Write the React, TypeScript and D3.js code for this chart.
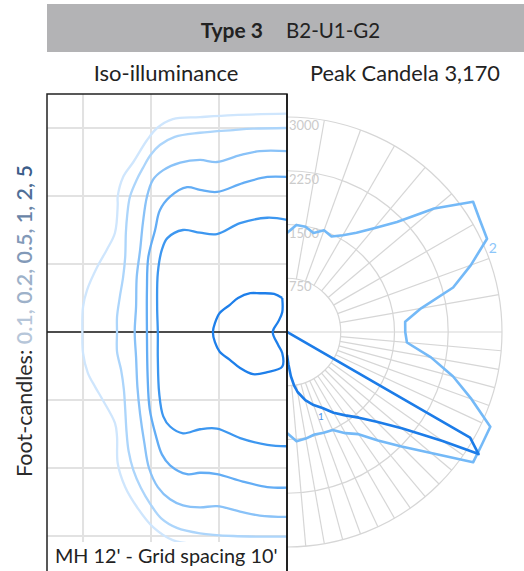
import React from 'react';
import * as d3 from 'd3';

// Iso-illuminance contours, feet relative to the luminaire (x left negative, y up positive)
const ISO_LEVELS = ['0.1', '0.2', '0.5', '1', '2', '5'];
const ISO_COLORS = ['#cfe6fd', '#acd5fb', '#89c2f8', '#63adf5', '#3d97f0', '#1e7fea'];
const LEGEND_COLORS = ['#b6c6d9', '#9db1c9', '#8299b8', '#6884a7', '#506f97', '#3b5d89'];

const iso01: [number, number][] = [
  [0, 32.1], [-7.9, 31.9], [-12.8, 31.6], [-16.8, 31.3], [-19.1, 30.0], [-20.6, 28.2],
  [-22.6, 25.0], [-24.1, 22.8], [-24.9, 19.9], [-24.9, 18.7], [-25.3, 14.6], [-26.5, 12.1],
  [-27.9, 9.6], [-29.4, 6.2], [-30.0, 3.7], [-30.1, 0], [-30.0, -3.1], [-29.3, -6.0],
  [-28.2, -8.1], [-27.1, -10.0], [-25.3, -13.4], [-25.0, -15.4], [-24.9, -19.3], [-23.8, -22.8],
  [-22.1, -25.7], [-19.7, -28.7], [-16.8, -30.6], [-12.8, -31.3], [-6.9, -31.8], [0, -32.1],
];
const iso02: [number, number][] = [
  [0, 30.0], [-5.0, 29.9], [-7.9, 29.7], [-12.8, 29.3], [-16.5, 28.7], [-18.7, 27.5],
  [-20.1, 26.0], [-21.2, 24.1], [-22.1, 22.4], [-23.1, 19.9], [-23.5, 17.2], [-23.7, 14.6],
  [-23.8, 11.0], [-24.1, 8.1], [-24.6, 5.1], [-25.0, 2.2], [-25.0, 0], [-25.0, -2.9],
  [-24.4, -5.6], [-24.0, -8.4], [-23.8, -11.3], [-23.6, -14.7], [-23.3, -17.5], [-22.6, -20.3],
  [-21.5, -22.9], [-20.1, -25.3], [-18.5, -27.4], [-16.2, -28.8], [-12.8, -29.6], [-7.9, -30.0],
  [0, -30.1],
];
const iso05: [number, number][] = [
  [0, 26.6], [-4.0, 26.6], [-6.9, 26.0], [-10.3, 25.0], [-12.8, 25.3], [-15.7, 24.9],
  [-18.2, 23.8], [-19.7, 22.4], [-20.6, 19.9], [-21.2, 16.0], [-21.6, 12.1], [-22.1, 8.1],
  [-22.2, 3.7], [-22.4, 0], [-22.2, -3.7], [-22.0, -8.1], [-21.6, -12.1], [-21.0, -16.2],
  [-20.3, -20.0], [-19.0, -22.8], [-17.2, -24.6], [-15.3, -25.5], [-12.8, -25.8], [-10.3, -25.6],
  [-6.9, -26.4], [-4.0, -27.0], [0, -27.2],
];
const iso1: [number, number][] = [
  [0, 22.8], [-2.9, 22.8], [-6.5, 21.9], [-10.3, 20.6], [-12.8, 20.9], [-14.7, 21.3],
  [-17.2, 19.9], [-18.7, 17.9], [-19.4, 15.0], [-20.4, 11.0], [-20.6, 6.2], [-20.6, 0],
  [-20.5, -6.5], [-20.2, -11.3], [-19.3, -15.2], [-18.4, -18.0], [-17.2, -19.6], [-14.7, -20.9],
  [-12.8, -20.7], [-10.3, -20.9], [-6.5, -22.0], [-2.9, -22.8], [0, -22.9],
];
const iso2: [number, number][] = [
  [0, 16.5], [-2.9, 16.8], [-6.9, 16.0], [-10.3, 14.4], [-12.8, 14.6], [-15.3, 15.0],
  [-17.6, 13.8], [-18.4, 12.1], [-19.0, 8.7], [-19.1, 3.7], [-19.0, 0], [-19.0, -3.8],
  [-18.8, -9.0], [-18.2, -12.4], [-17.2, -13.9], [-15.3, -14.9], [-12.8, -14.3], [-10.3, -14.2],
  [-6.9, -15.6], [-2.9, -16.6], [0, -16.8],
];
const iso5: [number, number][] = [
  [-0.7, 5.0], [-1.9, 5.6], [-4.0, 5.7], [-5.4, 5.7], [-7.2, 5.0], [-8.4, 4.0], [-9.9, 2.8],
  [-10.6, 1.3], [-10.9, 0], [-10.6, -1.5], [-9.9, -2.9], [-8.4, -4.1], [-6.9, -5.3],
  [-5.0, -6.2], [-2.9, -5.9], [-0.7, -5.1], [-0.7, -3.1], [-1.3, -1.9], [-2.1, 0],
  [-1.3, 1.5], [-0.7, 2.9], [-0.7, 5.0],
];
const ISO_DATA = [iso01, iso02, iso05, iso1, iso2, iso5];

// Candela distribution: [angle from nadir (deg), candela]
const plane1: [number, number][] = [
  [0, 320], [2.5, 450], [5, 620], [7.5, 750], [10, 850], [15, 985], [20, 1085], [25, 1170],
  [30, 1300], [35, 1420], [40, 1560], [45, 1770], [50, 2090], [52.5, 2330], [55, 2650],
  [57.5, 3170], [60, 2950], [62.5, 40], [65, 15], [70, 10], [80, 5], [90, 0],
];
const plane2: [number, number][] = [
  [0, 1410], [5, 1530], [10, 1510], [15, 1480], [20, 1495], [25, 1510], [30, 1630],
  [35, 1740], [40, 1975], [45, 2260], [50, 2625], [55, 3170], [60, 3140], [65, 3130],
  [70, 2740], [75, 2400], [80, 2040], [85, 1680], [90, 1650], [95, 1655], [100, 1900],
  [105, 2400], [110, 2730], [115, 3080], [120, 3110], [125, 3170], [130, 2680], [135, 2170],
  [140, 1890], [145, 1690], [150, 1560], [155, 1470], [160, 1510], [165, 1430], [170, 1490],
  [175, 1500], [180, 1380],
];
const RINGS = [750, 1500, 2250, 3000];
const UPPER_SPOKES = [100, 110, 120, 130, 140, 150, 160, 170];
const LOWER_SPOKES = [5, 10, 15, 20, 25, 30, 35, 40, 45, 50, 55, 60, 65, 70, 75, 80, 85];

const FONT = 'Lato, "Open Sans", sans-serif';

export default function App() {
  const x = d3.scaleLinear().domain([-35.3, 0]).range([47, 287]);
  const y = d3.scaleLinear().domain([35, -35]).range([94, 570]);
  const r = d3.scaleLinear().domain([0, 3000]).range([0, 215]);
  const cx = x(0);
  const cy = y(0);

  const isoLine = d3
    .line<[number, number]>()
    .x((d) => x(d[0]))
    .y((d) => y(d[1]))
    .curve(d3.curveCatmullRom);

  const polarPt = (deg: number, cd: number): [number, number] => {
    const a = (deg * Math.PI) / 180;
    return [cx + r(cd) * Math.sin(a), cy + r(cd) * Math.cos(a)];
  };
  const polarLine = d3
    .line<[number, number]>()
    .x((d) => polarPt(d[0], d[1])[0])
    .y((d) => polarPt(d[0], d[1])[1]);

  const spoke = (deg: number) => {
    const [x1, y1] = polarPt(deg, 750);
    const [x2, y2] = polarPt(deg, 3000);
    return <line key={deg} x1={x1} y1={y1} x2={x2} y2={y2} stroke="#d6d6d6" strokeWidth={1.2} />;
  };

  const gridX = [-30, -20, -10];
  const gridY = [-30, -20, -10, 10, 20, 30];
  const lbl2 = polarPt(115, 3000);

  return (
    <svg
      width={524}
      height={571}
      style={{ position: 'absolute', left: 0, top: 0, fontFamily: FONT }}
    >
      <rect width={524} height={571} fill="#fff" />
      {/* header */}
      <rect x={47} y={4} width={477} height={48} fill="#b3b3b5" />
      <text x={263} y={38} textAnchor="end" fontSize={21} fontWeight={700} fill="#222">
        Type 3
      </text>
      <text x={286} y={38} fontSize={20.5} fill="#222">
        B2-U1-G2
      </text>
      <text x={166} y={81} textAnchor="middle" fontSize={22} fill="#222">
        Iso-illuminance
      </text>
      <text x={405} y={81} textAnchor="middle" fontSize={21.8} fill="#222">
        Peak Candela 3,170
      </text>

      {/* polar candela plot */}
      <g>
        {RINGS.map((v) => (
          <path
            key={v}
            d={`M${cx},${cy - r(v)}A${r(v)},${r(v)} 0 0 1 ${cx},${cy + r(v)}`}
            fill="none"
            stroke="#d6d6d6"
            strokeWidth={1.2}
          />
        ))}
        {UPPER_SPOKES.map(spoke)}
        {LOWER_SPOKES.map(spoke)}
        <line x1={cx} y1={cy} x2={cx + r(3000)} y2={cy} stroke="#d6d6d6" strokeWidth={1.2} />
        {RINGS.map((v) => (
          <text key={v} x={cx + 2} y={cy - r(v) + 13} fontSize={13} fill="#cbcbcb">
            {v}
          </text>
        ))}
        <path d={polarLine(plane2) ?? ''} fill="none" stroke="#74b9f7" strokeWidth={2.6} strokeLinejoin="round" />
        <path d={polarLine(plane1) ?? ''} fill="none" stroke="#1c7ce8" strokeWidth={2.6} strokeLinejoin="round" />
        <text x={lbl2[0] + 7} y={lbl2[1] + 12} fontSize={14} fill="#8cc6fa">
          2
        </text>
        <text x={318} y={420} fontSize={10} fill="#4a95ec">
          1
        </text>
      </g>

      {/* iso-illuminance panel */}
      <defs>
        <clipPath id="isoClip">
          <rect x={47} y={94} width={240} height={477} />
        </clipPath>
      </defs>
      <rect x={47} y={94} width={240} height={477} fill="#fff" />
      <g clipPath="url(#isoClip)">
        {gridX.map((g) => (
          <line key={g} x1={x(g)} x2={x(g)} y1={94} y2={571} stroke="#e2e2e2" strokeWidth={2} />
        ))}
        {gridY.map((g) => (
          <line key={g} x1={47} x2={287} y1={y(g)} y2={y(g)} stroke="#e2e2e2" strokeWidth={2} />
        ))}
        <line x1={47} x2={287} y1={cy} y2={cy} stroke="#111" strokeWidth={1.5} />
        {ISO_DATA.map((d, i) => (
          <path
            key={ISO_LEVELS[i]}
            d={isoLine(d) ?? ''}
            fill="none"
            stroke={ISO_COLORS[i]}
            strokeWidth={2.3}
          />
        ))}
        <rect x={48} y={542} width={238} height={30} fill="#fff" />
        <text x={55} y={563} fontSize={19.8} fill="#222">
          MH 12' - Grid spacing 10'
        </text>
      </g>
      <rect x={47} y={94} width={240} height={480} fill="none" stroke="#222" strokeWidth={1.5} />
      <line x1={cx} x2={cx} y1={94} y2={571} stroke="#111" strokeWidth={1.5} />

      {/* legend */}
      <text transform={`translate(32,${321}) rotate(-90)`} textAnchor="middle" fontSize={21.5}>
        <tspan fill="#2b2b2b">Foot-candles: </tspan>
        {ISO_LEVELS.map((lv, i) => (
          <tspan key={lv} fill={LEGEND_COLORS[i]} fontWeight={600}>
            {lv}
            {i < ISO_LEVELS.length - 1 ? ', ' : ''}
          </tspan>
        ))}
      </text>
    </svg>
  );
}
